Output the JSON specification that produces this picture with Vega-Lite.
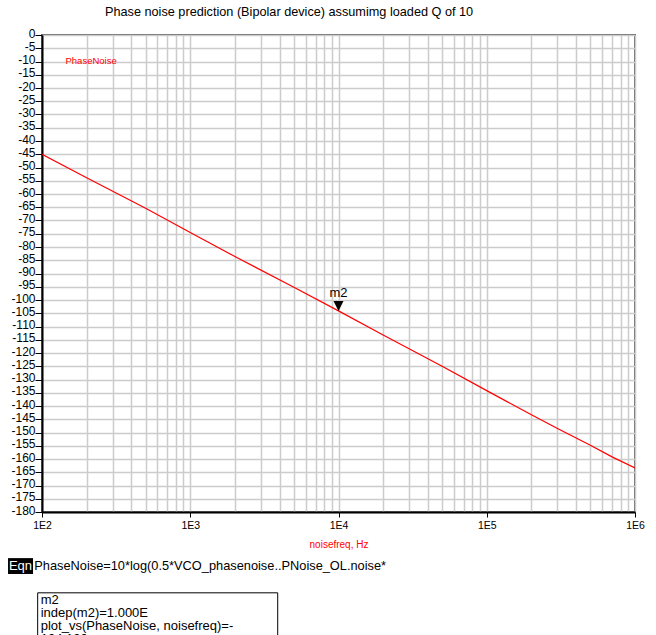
{
  "$schema": "https://vega.github.io/schema/vega-lite/v6.json",
  "autosize": "none",
  "width": 593,
  "height": 477,
  "padding": {"left": 42, "top": 35, "right": 21, "bottom": 123},
  "background": "white",
  "config": {
    "font": "Liberation Sans",
    "view": {"stroke": "#666666", "strokeWidth": 2},
    "axis": {
      "labelFont": "Liberation Sans", "titleFont": "Liberation Sans",
      "labelOverlap": false, "labelFlush": false, "labelBound": false,
      "labelColor": "black",
      "tickColor": "black", "tickWidth": 1,
      "grid": true, "gridColor": "#cccccc", "gridWidth": 1.5,
      "domainColor": "black", "domainWidth": 2
    },
    "axisX": {"labelFontSize": 10.5, "labelPadding": 3, "tickSize": 5, "titleColor": "#ff0000", "titleFontSize": 10, "titleFontWeight": "normal", "titlePadding": 9},
    "axisY": {"labelFontSize": 12, "labelPadding": 0, "labelOffset": -2, "tickSize": 7}
  },
  "title": {
    "text": "Phase noise prediction (Bipolar device) assumimg loaded Q of 10",
    "anchor": "start",
    "frame": "group",
    "dx": 63,
    "offset": -2,
    "baseline": "alphabetic",
    "fontSize": 12.7,
    "fontWeight": "normal",
    "font": "Liberation Sans",
    "color": "black"
  },
  "resolve": {"axis": {"x": "independent", "y": "independent"}},
  "datasets": {
    "trace": [
      {"f": 100, "v": -45.0, "s": "PhaseNoise"},
      {"f": 200, "v": -53.9, "s": "PhaseNoise"},
      {"f": 500, "v": -65.4, "s": "PhaseNoise"},
      {"f": 1000, "v": -74.5, "s": "PhaseNoise"},
      {"f": 2000, "v": -83.6, "s": "PhaseNoise"},
      {"f": 5000, "v": -95.2, "s": "PhaseNoise"},
      {"f": 10000, "v": -104.1, "s": "PhaseNoise"},
      {"f": 20000, "v": -113.2, "s": "PhaseNoise"},
      {"f": 50000, "v": -125.0, "s": "PhaseNoise"},
      {"f": 100000, "v": -134.2, "s": "PhaseNoise"},
      {"f": 200000, "v": -143.3, "s": "PhaseNoise"},
      {"f": 300000, "v": -148.5, "s": "PhaseNoise"},
      {"f": 500000, "v": -154.8, "s": "PhaseNoise"},
      {"f": 700000, "v": -159.2, "s": "PhaseNoise"},
      {"f": 1000000, "v": -163.4, "s": "PhaseNoise"}
    ],
    "marker": [
      {"f": 10000, "v": -104.13, "name": "m2"}
    ]
  },
  "layer": [
    {
      "data": {"name": "trace"},
      "mark": {"type": "line", "strokeWidth": 1.2, "clip": true},
      "encoding": {
        "x": {
          "field": "f", "type": "quantitative",
          "scale": {"type": "log", "domain": [100, 1000000], "nice": false},
          "axis": {
            "values": [100,200,300,400,500,600,700,800,900,1000,2000,3000,4000,5000,6000,7000,8000,9000,10000,20000,30000,40000,50000,60000,70000,80000,90000,100000,200000,300000,400000,500000,600000,700000,800000,900000,1000000],
            "labelExpr": "abs(log(datum.value)/LN10 - round(log(datum.value)/LN10)) < 0.001 ? '1E' + round(log(datum.value)/LN10) : ''",
            "tickOpacity": {"condition": {"test": "abs(log(datum.value)/LN10 - round(log(datum.value)/LN10)) < 0.001", "value": 1}, "value": 0},
            "title": "noisefreq, Hz"
          }
        },
        "y": {
          "field": "v", "type": "quantitative",
          "scale": {"domain": [-180, 0], "nice": false},
          "axis": {
            "values": [0,-5,-10,-15,-20,-25,-30,-35,-40,-45,-50,-55,-60,-65,-70,-75,-80,-85,-90,-95,-100,-105,-110,-115,-120,-125,-130,-135,-140,-145,-150,-155,-160,-165,-170,-175,-180],
            "labelExpr": "datum.value + ''",
            "title": null
          }
        },
        "color": {
          "field": "s", "type": "nominal",
          "scale": {"range": ["#ff0000"]},
          "legend": {
            "orient": "none",
            "legendX": 14,
            "legendY": 21,
            "title": null,
            "symbolSize": 0,
            "symbolOpacity": 0,
            "symbolStrokeWidth": 0,
            "labelOffset": 0,
            "labelColor": "#ff0000",
            "labelFontSize": 9.5,
            "labelFont": "Liberation Sans",
            "padding": 0
          }
        }
      }
    },
    {
      "data": {"name": "marker"},
      "mark": {"type": "point", "shape": "M-0.5,-1L0.5,-1L0,0Z", "size": 400, "filled": true, "color": "black", "opacity": 1},
      "encoding": {
        "x": {"field": "f", "type": "quantitative", "axis": null},
        "y": {"field": "v", "type": "quantitative", "axis": null}
      }
    },
    {
      "data": {"name": "marker"},
      "mark": {"type": "text", "dy": -18, "fontSize": 13, "color": "black", "baseline": "middle", "align": "center"},
      "encoding": {
        "x": {"field": "f", "type": "quantitative", "axis": null},
        "y": {"field": "v", "type": "quantitative", "axis": null},
        "text": {"field": "name"}
      }
    },
    {
      "data": {"values": [{}]},
      "mark": {"type": "rect", "color": "black"},
      "encoding": {
        "x": {"datum": 59.0, "type": "quantitative", "axis": null},
        "x2": {"datum": 87.0},
        "y": {"datum": -197.4, "type": "quantitative", "axis": null},
        "y2": {"datum": -203.4}
      }
    },
    {
      "data": {"values": [{}]},
      "mark": {"type": "text", "text": "Eqn", "color": "white", "fontSize": 13, "align": "center", "baseline": "alphabetic"},
      "encoding": {
        "x": {"datum": 71.6, "type": "quantitative", "axis": null},
        "y": {"datum": -201.9, "type": "quantitative", "axis": null}
      }
    },
    {
      "data": {"values": [{}]},
      "mark": {"type": "text", "text": "PhaseNoise=10*log(0.5*VCO_phasenoise..PNoise_OL.noise*", "color": "black", "fontSize": 12.8, "align": "left", "baseline": "alphabetic"},
      "encoding": {
        "x": {"datum": 88.7, "type": "quantitative", "axis": null},
        "y": {"datum": -201.9, "type": "quantitative", "axis": null}
      }
    },
    {
      "data": {"values": [{}]},
      "mark": {"type": "rect", "fill": "white", "stroke": "black", "strokeWidth": 1},
      "encoding": {
        "x": {"datum": 93.5, "type": "quantitative", "axis": null},
        "x2": {"datum": 3890},
        "y": {"datum": -210.5, "type": "quantitative", "axis": null},
        "y2": {"datum": -232.1}
      }
    },
    {
      "data": {"values": [{}]},
      "mark": {"type": "text", "text": ["m2", "indep(m2)=1.000E", "plot_vs(PhaseNoise, noisefreq)=-", "104.130"], "lineHeight": 13, "color": "black", "fontSize": 13, "align": "left", "baseline": "alphabetic"},
      "encoding": {
        "x": {"datum": 98.0, "type": "quantitative", "axis": null},
        "y": {"datum": -214.7, "type": "quantitative", "axis": null}
      }
    }
  ]
}
